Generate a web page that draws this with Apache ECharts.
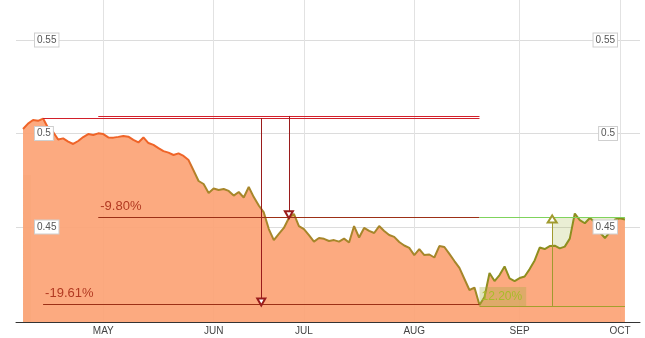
<!DOCTYPE html>
<html><head><meta charset="utf-8">
<script src="https://cdn.jsdelivr.net/npm/echarts@6/dist/echarts.min.js"></script>
<style>html,body{margin:0;padding:0;background:#fff}#c{width:645px;height:338px}</style>
</head><body><div id="c"></div>
<script>
// daily closing values (trading-day index 0..120)
const values = [
0.5024,0.5053,0.5072,0.5068,0.5080,0.5029,0.5008,0.4968,0.4974,0.4957,
0.4944,0.4960,0.4981,0.4997,0.4992,0.5001,0.4997,0.4979,0.4978,0.4982,
0.4987,0.4983,0.4966,0.4952,0.4979,0.4949,0.4939,0.4922,0.4906,0.4898,
0.4885,0.4894,0.4880,0.4858,0.4802,0.4746,0.4730,0.4682,0.4706,0.4698,
0.4703,0.4693,0.4668,0.4687,0.4658,0.4714,0.4660,0.4615,0.4578,0.4489,
0.4430,0.4463,0.4495,0.4548,0.4570,0.4505,0.4489,0.4457,0.4422,0.4441,
0.4437,0.4425,0.4430,0.4422,0.4438,0.4417,0.4505,0.4444,0.4495,0.4479,
0.4468,0.4505,0.4479,0.4457,0.4447,0.4420,0.4401,0.4388,0.4350,0.4382,
0.4350,0.4353,0.4337,0.4398,0.4393,0.4356,0.4318,0.4281,0.4222,0.4163,
0.4176,0.4083,0.4126,0.4254,0.4211,0.4243,0.4289,0.4225,0.4211,0.4227,
0.4235,0.4275,0.4321,0.4390,0.4382,0.4398,0.4400,0.4386,0.4395,0.4438,
0.4572,0.4537,0.4520,0.4548,0.4527,0.4471,0.4441,0.4473,0.4540,0.4547,
0.4540];

// month tick labels and the trading-day index where each month starts
const monthLabels = ['MAY','JUN','JUL','AUG','SEP','OCT'];
const monthIndex  = [16, 38, 56, 78, 99, 119];

// y tick labels
const yTicks = [0.45, 0.5, 0.55];

// drawdown annotations
const drawdownFrom = [4, 15];
const drawdownTo   = [91, 91];
const drawdownHigh = [0.5083, 0.5094];
const drawdownLow  = [0.4087, 0.4553];
const drawdownText = ['-19.61%', '-9.80%'];

// rise annotation
const riseFrom = [91];
const riseTo   = [120];
const riseLow  = [0.4078];
const riseHigh = [0.4551];
const riseText = ['12.20%'];

// shaded band at the start of the series
const bandFrom = [0];
const bandTo   = [1.6];
const bandHigh = [0.4778];

const Y_MIN = 0.3992, Y_MAX = 0.5714;

const chart = echarts.init(document.getElementById('c'), null, {renderer:'canvas'});

const seriesData = values.map((v, i) => [i, v]);

const topRed = '#d21f2a';
const darkRed = '#9a1c1c';
const lowRed = '#9c3016';
const txtRed = '#b23a22';

const ml = [];
drawdownFrom.forEach((f, k) => {
  const t = drawdownTo[k];
  const mid = (f + t) / 2;
  ml.push([{coord:[f, drawdownHigh[k]], lineStyle:{color:topRed, width:1, type:'solid'}}, {coord:[t, drawdownHigh[k]]}]);
  ml.push([{coord:[f, drawdownLow[k]], lineStyle:{color:lowRed, width:1, type:'solid'},
            label:{show:true, formatter:drawdownText[k], position:'insideStartTop', distance:[2,4], color:txtRed, fontSize:13, fontFamily:'Arial'}},
           {coord:[t, drawdownLow[k]]}]);
  ml.push([{coord:[mid, drawdownHigh[k]], symbol:'none', lineStyle:{color:darkRed, width:1, type:'solid'}},
           {coord:[mid, drawdownLow[k] + 0.0012], symbol:'emptyTriangle', symbolSize:[8,7]}]);
});
riseFrom.forEach((f, k) => {
  const t = riseTo[k];
  const mid = (f + t) / 2;
  ml.push([{coord:[f, riseHigh[k]], lineStyle:{color:'#7fd35c', width:1, type:'solid'}}, {coord:[t, riseHigh[k]]}]);
  ml.push([{coord:[f, riseLow[k]], lineStyle:{color:'#a3a02c', width:1, type:'solid'},
            label:{show:true, formatter:riseText[k], position:'insideStartTop', distance:[0,0], color:'#a9bb2a', fontSize:12, fontFamily:'Arial',
                   backgroundColor:'rgba(160,170,60,0.32)', padding:[4,4,3,2]}},
           {coord:[t, riseLow[k]]}]);
  ml.push([{coord:[mid, riseLow[k]], symbol:'none', lineStyle:{color:'#a09a2e', width:1, type:'solid'}},
           {coord:[mid, riseHigh[k] - 0.0008], symbol:'emptyTriangle', symbolSize:[9,7], itemStyle:{color:'#7fd35c'}}]);
});

const ma = [];
bandFrom.forEach((f, k) => {
  ma.push([{coord:[f, Y_MIN]}, {coord:[bandTo[k], bandHigh[k]]}]);
});
riseFrom.forEach((f, k) => {
  ma.push([{coord:[(f + riseTo[k]) / 2, riseLow[k]]}, {coord:[riseTo[k], riseHigh[k]]}]);
});

const yLabelBase = {
  inside:true, fontSize:10, fontFamily:'Arial', color:'#555',
  backgroundColor:'#fff', borderColor:'#cfcfcf', borderWidth:1, padding:[2,2,1,2],
  customValues: yTicks, formatter: v => String(v)
};

const labelAxis = (pos, margin) => ({
  type:'value', min:Y_MIN, max:Y_MAX, position:pos, z:10,
  axisLine:{show:false}, axisTick:{show:false, customValues:yTicks},
  axisLabel:Object.assign({}, yLabelBase, {margin:margin}),
  splitLine:{show:false}
});

chart.setOption({
  animation:false,
  grid:{left:16, right:5, top:0, bottom:16, containLabel:false},
  xAxis:{
    type:'value', min:-1.4, max:123,
    axisLine:{show:true, lineStyle:{color:'#333', width:1}},
    axisTick:{show:false, customValues: monthIndex},
    axisLabel:{customValues: monthIndex, formatter: v => monthLabels[monthIndex.indexOf(v)] || '',
               color:'#444', fontSize:10, fontFamily:'Arial', margin:4},
    splitLine:{show:true, lineStyle:{color:'#e2e2e2', width:1}}
  },
  yAxis:[
    {type:'value', min:Y_MIN, max:Y_MAX, position:'left',
     axisLine:{show:false}, axisTick:{show:false, customValues:yTicks},
     axisLabel:{show:false, customValues:yTicks},
     splitLine:{show:true, lineStyle:{color:'#dcdcdc', width:1}}},
    labelAxis('left', 19),
    labelAxis('right', 23)
  ],
  series:[{
    type:'line', data:seriesData, showSymbol:false, symbol:'none', smooth:false, yAxisIndex:0,
    lineStyle:{width:2, color:new echarts.graphic.LinearGradient(0,0,1,0,[
      {offset:0, color:'#ef6428'},{offset:0.275, color:'#ef6428'},
      {offset:0.29, color:'#a8862a'},{offset:0.74, color:'#a5862a'},
      {offset:0.77, color:'#8f8e20'},{offset:1, color:'#8a8e1e'}])},
    areaStyle:{color:'rgb(252,163,117)', opacity:0.92},
    markArea:{silent:true, itemStyle:{color:'rgba(150,170,40,0.2)'}, data:ma},
    markLine:{silent:true, animation:false, symbol:['none','none'], label:{show:false}, data:ml},
    z:2
  }]
});
</script>
</body></html>
